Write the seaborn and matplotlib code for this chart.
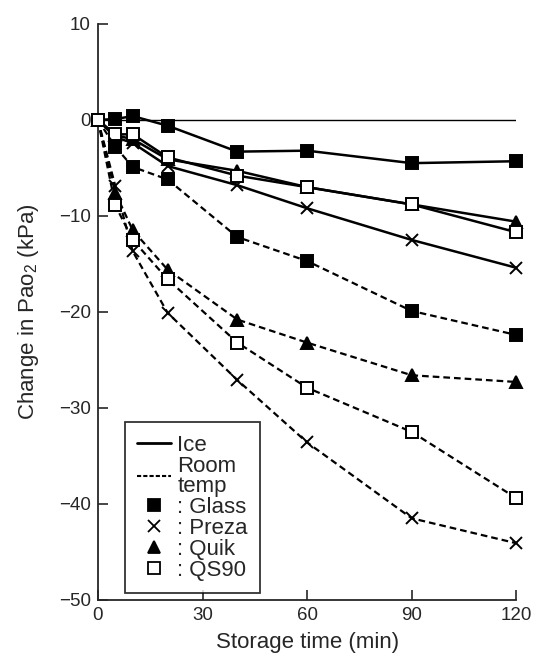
import numpy as np
import pandas as pd
import matplotlib.pyplot as plt
import seaborn as sns
from matplotlib.lines import Line2D

sns.set_style('ticks')
plt.rcParams['font.family'] = ['Liberation Sans', 'DejaVu Sans']
plt.rcParams['mathtext.fontset'] = 'custom'
plt.rcParams['mathtext.rm'] = 'Liberation Sans'

times = [0, 5, 10, 20, 40, 60, 90, 120]

# Ice (solid lines)
ice_glass = [0, 0.1, 0.4, -0.6, -3.3, -3.2, -4.5, -4.3]
ice_preza = [0, -1.8, -2.4, -4.8, -6.8, -9.2, -12.5, -15.4]
ice_quik = [0, -1.6, -2.0, -4.1, -5.3, -7.0, -8.8, -10.6]
ice_qs90 = [0, -1.5, -1.5, -3.9, -5.8, -7.0, -8.8, -11.7]

# Room temperature (dashed lines)
rt_glass = [0, -2.8, -4.9, -6.2, -12.2, -14.7, -19.9, -22.4]
rt_preza = [0, -6.9, -13.7, -20.1, -27.1, -33.6, -41.5, -44.1]
rt_quik = [0, -7.6, -11.5, -15.6, -20.8, -23.2, -26.6, -27.3]
rt_qs90 = [0, -8.9, -12.5, -16.6, -23.2, -27.9, -32.5, -39.4]

syringes = ['Glass', 'Preza', 'Quik', 'QS90']
marker_map = {'Glass': 's', 'Preza': 'x', 'Quik': '^', 'QS90': 's'}
face_map = {'Glass': 'black', 'Preza': 'black', 'Quik': 'black', 'QS90': 'white'}

series = [
    ('Ice', 'Glass', ice_glass), ('Ice', 'Preza', ice_preza),
    ('Ice', 'Quik', ice_quik), ('Ice', 'QS90', ice_qs90),
    ('RT', 'Glass', rt_glass), ('RT', 'Preza', rt_preza),
    ('RT', 'Quik', rt_quik), ('RT', 'QS90', rt_qs90),
]

fig, ax = plt.subplots(figsize=(5.44, 6.57), dpi=100)
fig.subplots_adjust(left=0.180, right=0.949, bottom=0.087, top=0.9635)

# zero reference line
sns.lineplot(x=[0, 120], y=[0, 0], ax=ax, color='black', lw=1.0, legend=False)

for cond, syr, vals in series:
    ls = '-' if cond == 'Ice' else (0, (3, 1.8))
    lw = 1.8 if cond == 'Ice' else 1.6
    sns.lineplot(x=times, y=vals, ax=ax, color='black', lw=lw, linestyle=ls,
                 marker=marker_map[syr], markersize=8.5,
                 markerfacecolor=face_map[syr], markeredgecolor='black',
                 markeredgewidth=1.4, legend=False, zorder=3, clip_on=False)

ax.set_xlim(0, 120)
ax.set_ylim(-50, 10)
ax.set_xticks([0, 30, 60, 90, 120])
ax.set_yticks([-50, -40, -30, -20, -10, 0, 10])
ax.tick_params(direction='in', length=7, width=1.2, labelsize=13.5, pad=5)
for side in ['top', 'right']:
    ax.spines[side].set_visible(False)
for side in ['left', 'bottom']:
    ax.spines[side].set_linewidth(1.3)
ax.set_xlabel('Storage time (min)', fontsize=16, labelpad=6)
ax.set_ylabel(r'Change in Pao$_2$ (kPa)', fontsize=16, labelpad=13)

handles = [
    Line2D([], [], color='black', lw=2, linestyle='-'),
    Line2D([], [], color='black', lw=1.5, linestyle=(0, (2, 1))),
]
labels = ['Ice', 'Room\ntemp']
for syr in syringes:
    handles.append(Line2D([], [], color='black', linestyle='none',
                          marker=marker_map[syr], markersize=8,
                          markerfacecolor=face_map[syr], markeredgewidth=1.3))
    labels.append(': ' + syr)

leg = ax.legend(handles, labels, loc='lower left', bbox_to_anchor=(0.065, 0.012),
                fontsize=16, frameon=True, fancybox=False, edgecolor='black',
                handlelength=1.5, handletextpad=0.3, labelspacing=0.0,
                borderpad=0.55, borderaxespad=0, markerfirst=True)
leg.get_frame().set_linewidth(1.3)
for t in leg.get_texts():
    t.set_linespacing(0.95)

fig.savefig('out.png', dpi=100)
